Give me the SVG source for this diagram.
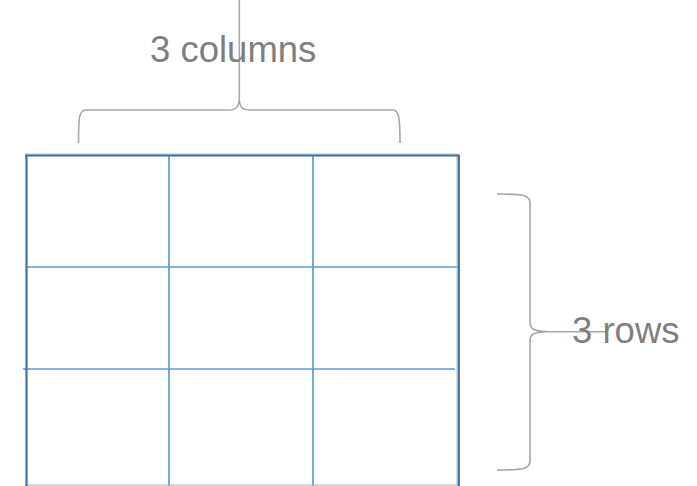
<svg xmlns="http://www.w3.org/2000/svg" width="697" height="486" viewBox="0 0 697 486">
<style>
.lbl{font-family:"Liberation Sans",Arial,sans-serif;font-size:36.5px;fill:#7f7f7f}
.brace{fill:none;stroke:#a6a6a6;stroke-width:1.6}
.grid{stroke:#5b9bd5;stroke-width:1.7;fill:none}
.outer{stroke:#41719c;stroke-width:2.2;fill:none}
</style>
<rect width="697" height="486" fill="#ffffff"/>
<g id="table">
  <line class="grid" x1="169" y1="155" x2="169" y2="486"/>
  <line class="grid" x1="313" y1="155" x2="313" y2="486"/>
  <line class="grid" x1="27" y1="267" x2="458" y2="267"/>
  <line class="grid" x1="23" y1="369" x2="455" y2="369"/>
  <line x1="25" y1="154" x2="459" y2="154" stroke="#b4c0cc" stroke-width="1"/>
  <line x1="25" y1="485" x2="459" y2="485" stroke="#a8b4c0" stroke-width="1"/>
  <line x1="457" y1="156" x2="457" y2="486" stroke="#b0b8c4" stroke-width="1"/>
  <line class="outer" x1="25" y1="155.5" x2="459.5" y2="155.5"/>
  <line class="outer" x1="26.5" y1="155" x2="26.5" y2="486"/>
  <line class="outer" x1="458.8" y1="155" x2="458.8" y2="486"/>
</g>
<g id="columns-brace">
  <path class="brace" d="M78.5,143 C78.5,118 79,110 86,110 L228,110 C236,110 239,107 239.3,99 C239.6,107 242,110 250,110 L393,110 C399,110 400,118 400,143"/>
</g>
<g id="rows-brace">
  <path class="brace" d="M497,194 C524,194 530,195 530,203 L530,322 C530,329 533,331 548,331.7 C533,332.4 530,334 530,341 L530,461 C530,469 524,470 497,470"/>
</g>
<g id="connectors">
  <line class="brace" x1="239.3" y1="0" x2="239.3" y2="99"/>
  <line class="brace" x1="548" y1="331.7" x2="607" y2="331.7"/>
</g>
<g id="label-columns">
  <text class="lbl" x="150" y="62">3 columns</text>
</g>
<g id="label-rows">
  <text class="lbl" x="572" y="343">3 rows</text>
</g>
</svg>
